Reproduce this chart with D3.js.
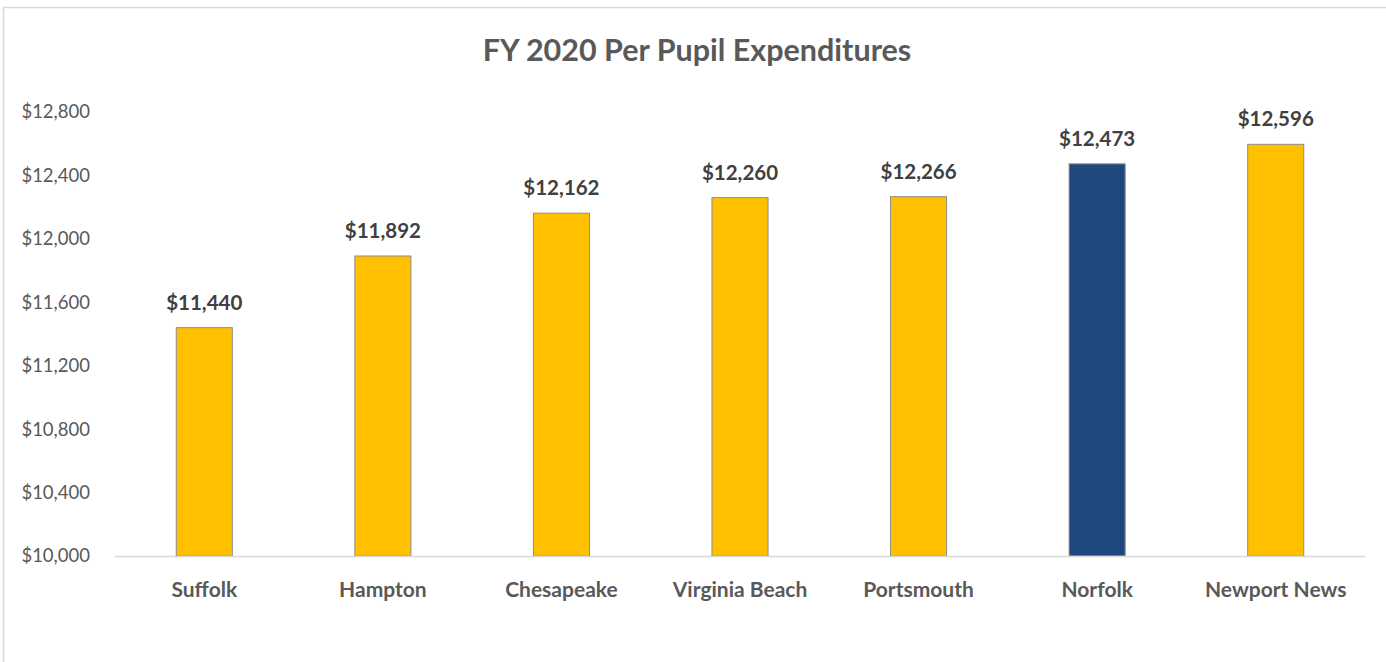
<!DOCTYPE html>
<html>
<head>
<meta charset="utf-8">
<script src="https://cdn.jsdelivr.net/npm/d3@7"></script>
<style>
  body { margin: 0; background: #fff; }
  svg { display: block; font-family: Lato, "Open Sans", sans-serif; }
</style>
</head>
<body>
<div id="chart"></div>
<script>
// values
var districts = ["Suffolk", "Hampton", "Chesapeake", "Virginia Beach", "Portsmouth", "Norfolk", "Newport News"];
var perPupil = [11440, 11892, 12162, 12260, 12266, 12473, 12596];
var highlight = ["Norfolk"];
var yTicks = [10000, 10400, 10800, 11200, 11600, 12000, 12400, 12800];
var title = "FY 2020 Per Pupil Expenditures";

var width = 1386, height = 662;
var margin = {top: 112, right: 21, bottom: 106, left: 115};

var svg = d3.select("#chart").append("svg")
  .attr("width", width)
  .attr("height", height);

// chart area border
svg.append("rect")
  .attr("x", 3.5).attr("y", 7.5)
  .attr("width", width).attr("height", height)
  .attr("fill", "none")
  .attr("stroke", "#d9d9d9")
  .attr("stroke-width", 1.5);

svg.append("text")
  .attr("x", 697).attr("y", 61)
  .attr("text-anchor", "middle")
  .attr("font-size", 30.5)
  .attr("font-weight", "bold")
  .attr("fill", "#595959")
  .text(title);

var x = d3.scaleBand()
  .domain(districts)
  .range([margin.left, width - margin.right])
  .paddingInner(0.686)
  .paddingOuter(0.343);

var y = d3.scaleLinear()
  .domain([10000, 12800])
  .range([height - margin.bottom, margin.top]);

var fmt = function(v) { return "$" + d3.format(",")(v); };

var yAxis = d3.axisLeft(y).tickValues(yTicks).tickFormat(fmt).tickSize(0).tickPadding(0);
svg.append("g")
  .attr("transform", "translate(90,0)")
  .call(yAxis)
  .call(function(g) {
    g.select(".domain").remove();
    g.selectAll("text").attr("font-size", 18.5).attr("fill", "#595959").attr("font-family", "Lato, sans-serif");
  });

var data = districts.map(function(d, i) { return {name: d, value: perPupil[i]}; });

svg.selectAll("rect.bar").data(data).enter().append("rect")
  .attr("class", "bar")
  .attr("x", function(d) { return x(d.name); })
  .attr("y", function(d) { return y(d.value); })
  .attr("width", x.bandwidth())
  .attr("height", function(d) { return y(10000) - y(d.value); })
  .attr("fill", function(d) { return highlight.indexOf(d.name) >= 0 ? "#1f497d" : "#ffc000"; })
  .attr("stroke", "#8c8c8c")
  .attr("stroke-width", 1);

// baseline
svg.append("line")
  .attr("x1", margin.left).attr("x2", width - margin.right)
  .attr("y1", y(10000) + 0.5).attr("y2", y(10000) + 0.5)
  .attr("stroke", "#d9d9d9")
  .attr("stroke-width", 1.5);

svg.selectAll("text.val").data(data).enter().append("text")
  .attr("class", "val")
  .attr("x", function(d) { return x(d.name) + x.bandwidth() / 2; })
  .attr("y", function(d) { return y(d.value) - 18; })
  .attr("text-anchor", "middle")
  .attr("font-size", 20.5)
  .attr("font-weight", "bold")
  .attr("fill", "#404040")
  .text(function(d) { return fmt(d.value); });

var xAxis = d3.axisBottom(x).tickSize(0).tickPadding(0);
svg.append("g")
  .attr("transform", "translate(0," + (y(10000) + 26) + ")")
  .call(xAxis)
  .call(function(g) {
    g.select(".domain").remove();
    g.selectAll("text").attr("font-size", 21).attr("font-weight", "bold").attr("fill", "#595959")
      .attr("font-family", "Lato, sans-serif");
  });
</script>
</body>
</html>
